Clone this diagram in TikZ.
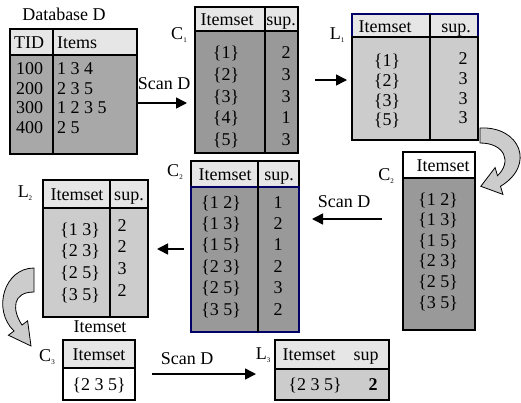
\documentclass[tikz,border=0pt]{standalone}
\usepackage{fontspec}
\setmainfont{Liberation Serif}
\usetikzlibrary{arrows.meta}
\definecolor{hdrgray}{HTML}{E6E6E6}
\definecolor{darkgray}{HTML}{999999}
\definecolor{midgray}{HTML}{A8A8A8}
\definecolor{lightgray}{HTML}{CCCCCC}
\definecolor{navyline}{HTML}{000066}
\newcommand{\setlbl}[2]{#1\raisebox{-0.3ex}{\fontsize{7}{7}\selectfont #2}}
\begin{document}
\begin{tikzpicture}[x=1pt,y=-1pt,
  font=\fontsize{18}{20}\selectfont,
  frame/.style={line width=1.8pt},
  rule/.style={line width=1.4pt},
  txt/.style={inner sep=0pt,text height=12pt,text depth=0pt},
  lbl/.style={inner sep=0pt,font=\fontsize{18}{20}\selectfont},
  flow/.style={line width=1.5pt,-{Triangle[length=11pt,width=11pt]}},
  blockarrow/.style={fill=lightgray,draw=black,line width=0.8pt,line join=miter}]
\useasboundingbox (0,0) rectangle (521,402);

% ---------- Database D ----------
\node[lbl] (dbt) at (64,14) {Database D};
\filldraw[fill=hdrgray,draw=black] (10,29) rectangle (137,55);
\filldraw[fill=midgray,draw=black] (10,55) rectangle (137,154);
\draw[frame] (10,29) rectangle (137,154);
\draw[rule] (10,55) -- (137,55) (53,29) -- (53,154);
\node[txt,anchor=west] (dbh1) at (14,42) {TID};
\node[txt,anchor=west] (dbh2) at (57,42) {Items};
\foreach \t/\i/\y [count=\k] in {100/1 3 4/68,200/2 3 5/88,300/1 2 3 5/107,400/2 5/127}{
  \node[txt,anchor=west] (dbt\k) at (16,\y) {\t};
  \node[txt,anchor=west] (dbi\k) at (57,\y) {\i};
}

% ---------- C1 ----------
\node[lbl] (c1l) at (179,35) {\setlbl{C}{1}};
\filldraw[fill=hdrgray,draw=black] (195,7) rectangle (298,31);
\filldraw[fill=darkgray,draw=black] (195,31) rectangle (298,153);
\draw[frame] (195,7) rectangle (298,153);
\draw[rule] (195,31) -- (298,31) (265,7) -- (265,153);
\node[txt] (c1h1) at (227,19) {Itemset};
\node[txt] (c1h2) at (281,19) {sup.};
\foreach \s/\n/\y [count=\k] in {1/2/52,2/3/74,3/3/96,4/1/117,5/3/139}{
  \node[txt] (c1i\k) at (226,\y) {\{\s\}};
  \node[txt] (c1s\k) at (286,\y) {\n};
}

% ---------- L1 ----------
\node[lbl] (l1l) at (337,35) {\setlbl{L}{1}};
\filldraw[fill=hdrgray,draw=navyline,line width=1.8pt] (352,14) rectangle (478,37);
\filldraw[fill=lightgray,draw=black,line width=1.8pt] (352,37) rectangle (478,140);
\draw[rule] (430,14) -- (430,140);
\node[txt] (l1h1) at (385,26) {Itemset};
\node[txt] (l1h2) at (456,26) {sup.};
\foreach \s/\n/\y [count=\k] in {1/2/60,2/3/80,3/3/100,5/3/119}{
  \node[txt] (l1i\k) at (387,\y) {\{\s\}};
  \node[txt] (l1s\k) at (463,\y-2) {\n};
}

% ---------- C2 (candidates) ----------
\node[lbl] (c2rl) at (386,176) {\setlbl{C}{2}};
\filldraw[fill=white,draw=black] (403,152) rectangle (475,178);
\filldraw[fill=darkgray,draw=black] (403,178) rectangle (475,330);
\draw[frame] (403,152) rectangle (475,330);
\draw[rule] (403,178) -- (475,178);
\node[txt] (c2rh) at (443,165) {Itemset};
\foreach \s/\y [count=\k] in {1 2/199,1 3/219.6,1 5/240.2,2 3/260.8,2 5/281.4,3 5/302}{
  \node[txt] (c2ri\k) at (438,\y) {\{\s\}};
}

% ---------- C2 (counted) ----------
\node[lbl] (c2ml) at (175,172) {\setlbl{C}{2}};
\filldraw[fill=hdrgray,draw=black,line width=1.8pt] (191,161) rectangle (299,187);
\filldraw[fill=darkgray,draw=navyline,line width=1.8pt] (191,187) rectangle (299,332);
\draw[rule] (258,161) -- (258,332);
\node[txt] (c2mh1) at (225,174) {Itemset};
\node[txt] (c2mh2) at (279,174) {sup.};
\foreach \s/\n/\y [count=\k] in {1 2/1/202,1 3/2/223.4,1 5/1/244.8,2 3/2/266.2,2 5/3/287.6,3 5/2/309}{
  \node[txt] (c2mi\k) at (221,\y) {\{\s\}};
  \node[txt] (c2ms\k) at (278,\y) {\n};
}

% ---------- L2 ----------
\node[lbl] (l2l) at (25,193) {\setlbl{L}{2}};
\filldraw[fill=hdrgray,draw=black] (43,180) rectangle (148,208);
\filldraw[fill=lightgray,draw=black] (43,208) rectangle (148,317);
\draw[frame] (43,180) rectangle (148,317);
\draw[rule] (43,208) -- (148,208) (110,180) -- (110,317);
\node[txt] (l2h1) at (77,194) {Itemset};
\node[txt] (l2h2) at (129,194) {sup.};
\foreach \s/\n/\y [count=\k] in {1 3/2/229,2 3/2/250.7,2 5/3/272.4,3 5/2/294}{
  \node[txt] (l2i\k) at (80,\y) {\{\s\}};
  \node[txt] (l2s\k) at (122,\y-4) {\n};
}
\node[txt] (l2cap) at (100,326) {Itemset};

% ---------- C3 ----------
\node[lbl] (c3l) at (47,357) {\setlbl{C}{3}};
\filldraw[fill=hdrgray,draw=black] (63,340) rectangle (135,368);
\filldraw[fill=white,draw=black] (63,368) rectangle (135,400);
\draw[frame] (63,340) rectangle (135,400);
\draw[rule] (63,368) -- (135,368);
\node[txt] (c3h) at (99,354) {Itemset};
\node[txt] (c3i) at (99,384) {\{2 3 5\}};

% ---------- L3 ----------
\node[lbl] (l3l) at (263,355) {\setlbl{L}{3}};
\filldraw[fill=hdrgray,draw=black] (275,340) rectangle (389,369);
\filldraw[fill=lightgray,draw=black] (275,369) rectangle (389,400);
\draw[frame] (275,340) rectangle (389,400);
\draw[rule] (275,369) -- (389,369);
\node[txt] (l3h1) at (309,354) {Itemset};
\node[txt] (l3h2) at (366,354) {sup};
\node[txt] (l3i) at (315,384) {\{2 3 5\}};
\node[txt] (l3s) at (373,384) {\textbf{2}};

% ---------- straight arrows ----------
\coordinate (a1s) at (136,103); \coordinate (a1e) at (187,103);
\draw[flow] (a1s) -- (a1e);
\node[lbl] (a1t) at (164,84) {Scan D};
\coordinate (a2s) at (315,80); \coordinate (a2e) at (347,80);
\draw[flow] (a2s) -- (a2e);
\coordinate (a3s) at (382,219); \coordinate (a3e) at (312,219);
\draw[flow] (a3s) -- (a3e);
\node[lbl] (a3t) at (344,202) {Scan D};
\coordinate (a4s) at (184,249); \coordinate (a4e) at (157,249);
\draw[flow] (a4s) -- (a4e);
\coordinate (a5s) at (152,374); \coordinate (a5e) at (256,374);
\draw[flow] (a5s) -- (a5e);
\node[lbl] (a5t) at (187,359) {Scan D};

% ---------- curved block arrows ----------
\filldraw[blockarrow] (480,128) .. controls (520,126) and (536,165) .. (500.5,186.3)
  -- (502.9,194.4) -- (480.8,186.3) -- (495.1,167.6) -- (497.5,175.7)
  .. controls (512,162) and (505,143) .. (480,143) -- cycle;
\filldraw[blockarrow] (34,268) .. controls (4,268) and (-8,310) .. (14,331)
  -- (8.4,335.2) -- (31,346) -- (27.6,320.8) -- (22,325)
  .. controls (12,310) and (12,292) .. (34,292) -- cycle;
\end{tikzpicture}
\end{document}
